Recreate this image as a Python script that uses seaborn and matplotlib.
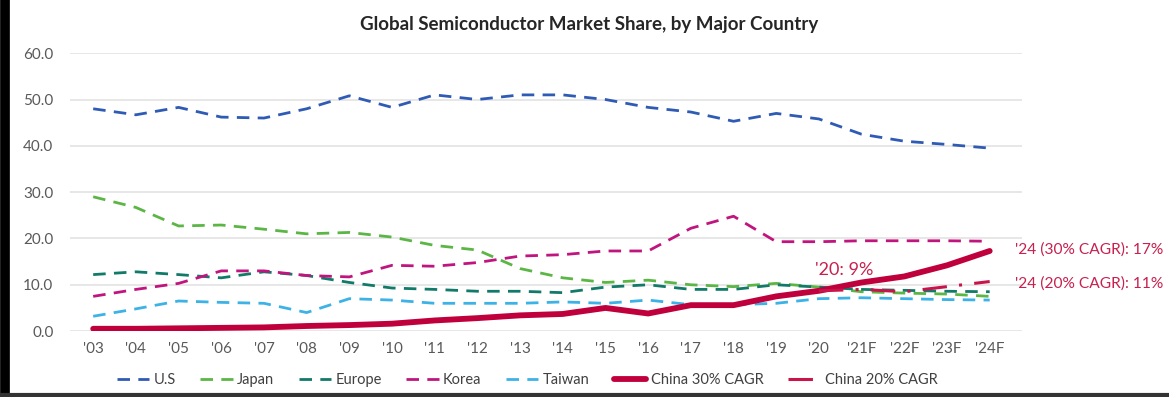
import numpy as np
import matplotlib.pyplot as plt
import seaborn as sns
import pandas as pd
from matplotlib.lines import Line2D

sns.set_style("white")
plt.rcParams['font.family'] = ['Lato', 'DejaVu Sans']

years = ["'03", "'04", "'05", "'06", "'07", "'08", "'09", "'10", "'11", "'12", "'13",
         "'14", "'15", "'16", "'17", "'18", "'19", "'20", "'21F", "'22F", "'23F", "'24F"]

us = [48.0, 46.7, 48.3, 46.2, 46.0, 48.0, 50.8, 48.3, 51.0, 50.0, 51.0,
      51.0, 50.0, 48.3, 47.3, 45.3, 47.0, 45.8, 42.5, 41.0, 40.3, 39.5]
japan = [29.0, 26.7, 22.7, 22.9, 22.0, 21.0, 21.3, 20.3, 18.5, 17.5, 13.5,
         11.5, 10.5, 11.0, 10.0, 9.6, 10.3, 9.5, 8.5, 8.2, 8.0, 7.5]
europe = [12.2, 12.8, 12.2, 11.5, 12.8, 12.0, 10.5, 9.3, 9.0, 8.6, 8.6,
          8.3, 9.5, 10.0, 9.0, 9.0, 10.0, 9.5, 9.0, 8.8, 8.6, 8.5]
korea = [7.5, 9.0, 10.3, 13.0, 13.0, 12.0, 11.7, 14.2, 14.0, 14.8, 16.2,
         16.5, 17.3, 17.3, 22.2, 24.8, 19.3, 19.3, 19.5, 19.5, 19.5, 19.4]
taiwan = [3.2, 4.8, 6.5, 6.2, 6.0, 4.0, 7.0, 6.7, 6.0, 6.0, 6.0,
          6.3, 6.0, 6.7, 5.7, 5.7, 6.0, 7.0, 7.2, 7.0, 6.8, 6.7]
china30 = [0.5, 0.5, 0.6, 0.7, 0.8, 1.1, 1.3, 1.6, 2.3, 2.8, 3.4,
           3.7, 5.0, 3.8, 5.6, 5.6, 7.5, 8.7, 10.5, 11.8, 14.2, 17.3]
china20_years = ["'20", "'21F", "'22F", "'23F", "'24F"]
china20 = [8.7, 9.0, 8.5, 9.6, 10.7]

x = np.arange(len(years))
x20 = [years.index(y) for y in china20_years]

fig = plt.figure(figsize=(11.69, 3.97), dpi=100)
ax = fig.add_axes([0.06, 0.166, 0.814, 0.70])

dash = (0, (4.5, 3))
series = [
    ("U.S", us, "#2f5bb5"),
    ("Japan", japan, "#5cb646"),
    ("Europe", europe, "#127a68"),
    ("Korea", korea, "#c0157f"),
    ("Taiwan", taiwan, "#3cb2e6"),
]
for name, vals, col in series:
    sns.lineplot(x=x, y=vals, ax=ax, color=col, linestyle=dash, linewidth=2.0, label=name)

sns.lineplot(x=x, y=china30, ax=ax, color="#c0003c", linewidth=4.2, label="China 30% CAGR")
sns.lineplot(x=x20, y=china20, ax=ax, color="#c8144a", linestyle=(0, (8, 4, 1, 4)),
             linewidth=2.2, label="China 20% CAGR")

ax.set_xlim(-0.54, 21.75)
ax.set_ylim(0, 60)
ax.set_yticks(np.arange(0, 61, 10))
ax.set_yticklabels([f"{v:.1f}" for v in np.arange(0, 61, 10)])
ax.set_xticks(x)
ax.set_xticklabels(years)
ax.tick_params(axis='both', colors="#595959", labelsize=11, length=0)
ax.tick_params(axis='y', pad=12)
ax.tick_params(axis='x', pad=8)
ax.grid(axis='y', color="#e3e3e3", linewidth=1.2)
for s in ax.spines.values():
    s.set_visible(False)
ax.set_xlabel('')
ax.set_ylabel('')

txt_col = "#c8204f"
ax.text(17.6, 13.2, "'20: 9%", color=txt_col, fontsize=13, ha='center', va='center')
ax.text(21.6, 17.6, "'24 (30% CAGR): 17%", color=txt_col, fontsize=11.2, ha='left',
        va='center', clip_on=False)
ax.text(21.6, 10.3, "'24 (20% CAGR): 11%", color=txt_col, fontsize=11.2, ha='left',
        va='center', clip_on=False)

fig.suptitle("Global Semiconductor Market Share, by Major Country", x=0.504, y=0.96,
             fontsize=13.5, fontweight='bold', color="#262626")

leg = ax.legend(loc='center', bbox_to_anchor=(0.451, 0.043), bbox_transform=fig.transFigure,
                ncol=7, frameon=False, fontsize=10.5, handlelength=2.2, columnspacing=1.7,
                handletextpad=0.3)
for t in leg.get_texts():
    t.set_color("#404040")

# screenshot frame edges
fig.add_artist(Line2D([0.004, 0.004], [0, 1], transform=fig.transFigure, color='black', linewidth=7))
fig.add_artist(Line2D([0, 1], [0.004, 0.004], transform=fig.transFigure, color='#333333', linewidth=3))

fig.savefig("out.png", dpi=100)
plt.close(fig)
